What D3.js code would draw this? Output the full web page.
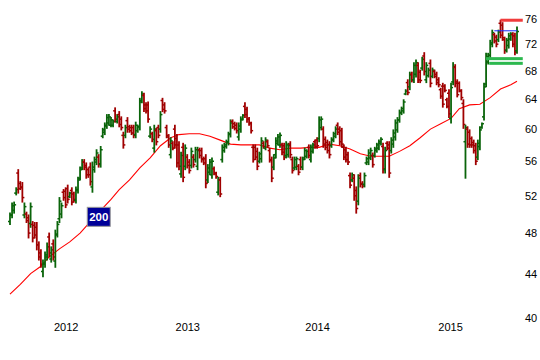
<!DOCTYPE html>
<html>
<head>
<meta charset="utf-8">
<script src="https://cdn.jsdelivr.net/npm/d3@7/dist/d3.min.js"></script>
<style>
  html, body { margin: 0; padding: 0; background: #fff; }
  svg { display: block; }
  text { font-family: "Liberation Sans", Arial, sans-serif; }
</style>
</head>
<body>
<svg id="chart" width="540" height="360"></svg>
<script>
// ---- data (weekly OHLC bars) ----
const highs = [
50.1,51.2,51.3,52.9,55.0,53.6,53.5,51.2,50.2,49.9,
51.2,49.2,49.1,49.1,47.1,46.3,45.3,46.1,47.0,48.0,
46.6,47.3,48.3,49.2,51.8,51.2,52.7,52.9,53.2,52.4,
52.9,52.4,53.0,54.1,55.3,56.2,56.2,55.8,55.2,55.8,
55.9,56.5,57.4,56.8,57.8,60.1,60.8,61.9,61.9,61.5,
61.2,62.8,61.9,62.3,61.6,59.6,60.5,61.5,60.5,60.5,
60.5,60.9,60.5,64.1,65.0,64.8,63.5,63.6,60.3,59.6,
60.5,60.1,60.5,62.3,64.1,63.5,60.5,59.3,58.9,58.4,
60.5,59.3,58.4,57.1,58.2,58.0,56.8,56.2,57.6,56.8,
57.7,57.7,57.6,57.6,56.5,56.8,55.6,56.2,56.4,55.3,
54.7,54.1,54.1,58.0,58.2,58.6,59.6,61.2,61.2,60.9,
60.8,60.8,61.6,61.9,63.5,62.9,61.5,60.9,58.0,58.0,
57.6,57.1,58.9,58.4,58.9,58.6,57.6,56.5,56.8,58.9,
59.3,59.5,58.2,58.2,58.4,58.2,58.4,56.5,56.5,56.5,
55.6,56.5,56.5,57.6,57.4,58.0,58.0,58.2,58.6,58.9,
61.6,61.6,60.3,59.0,58.6,58.4,58.9,59.6,60.3,60.8,
60.3,60.1,58.0,57.7,57.1,54.6,54.6,54.4,53.0,54.4,
54.6,53.6,54.6,56.5,57.4,57.6,57.0,57.7,58.2,58.6,
58.9,58.2,57.7,58.4,58.4,58.9,59.9,61.2,61.5,62.5,
62.9,63.9,65.3,66.7,67.8,67.8,69.2,69.6,69.2,68.1,
70.0,70.7,69.2,68.4,69.6,68.4,68.1,67.8,67.0,65.5,
66.2,66.0,64.1,65.3,66.2,69.2,68.9,66.7,66.4,65.3,
63.9,60.5,60.3,59.9,59.0,58.6,58.2,58.6,60.3,60.8,
66.2,70.6,70.6,72.6,74.2,73.7,73.4,74.2,75.8,75.4,
73.1,72.9,73.7,73.8,73.8,73.7,74.7];
const lows = [
48.9,49.6,50.1,52.1,52.3,52.7,51.3,49.6,49.1,47.5,
48.6,47.1,47.5,46.3,45.3,44.6,43.7,44.6,45.3,45.6,
45.1,45.3,44.6,47.6,49.1,49.6,51.5,50.7,51.2,51.8,
51.0,51.3,51.2,52.3,53.8,55.0,55.0,54.0,54.1,53.2,
52.4,54.7,55.6,55.3,55.3,58.9,59.3,60.1,60.5,60.3,
60.3,60.9,60.8,60.3,59.9,57.6,58.9,59.6,59.6,59.3,
58.9,58.9,59.6,59.9,63.5,62.3,62.1,60.9,58.9,58.4,
57.1,58.0,58.9,59.6,62.3,62.1,58.9,57.7,56.4,57.4,
57.6,55.3,55.0,54.1,53.6,55.0,55.2,54.6,55.2,55.3,
55.9,55.0,56.4,55.9,55.6,52.9,53.5,54.4,54.0,54.4,
54.0,52.1,51.9,55.9,57.1,57.6,58.0,59.0,60.1,59.9,
59.5,58.6,59.6,61.2,61.5,60.9,60.5,59.5,55.9,56.2,
55.0,55.8,55.9,57.6,57.4,57.7,55.9,53.6,55.0,56.4,
58.0,57.7,56.8,56.2,56.4,56.5,56.4,54.6,55.0,55.0,
54.4,55.0,55.0,56.2,56.4,56.4,55.9,57.0,57.6,57.6,
58.4,59.9,57.7,57.4,57.0,56.4,57.7,58.4,58.9,59.3,
58.0,57.7,56.2,55.9,55.6,52.9,53.6,51.5,50.1,51.0,
53.0,52.9,53.0,55.6,55.6,56.2,55.3,56.5,57.1,57.4,
58.0,54.6,54.6,57.4,54.1,57.0,57.7,58.6,59.6,60.9,
61.9,62.1,64.6,64.6,65.3,66.4,66.3,67.1,66.3,66.3,
68.1,67.4,66.3,67.1,65.7,67.0,67.0,66.0,65.7,64.1,
62.9,65.0,62.8,61.5,60.8,66.0,65.7,64.3,65.0,63.9,
60.1,54.0,57.7,57.7,57.7,57.0,55.6,56.2,57.4,60.1,
61.2,65.7,69.0,70.0,71.6,72.2,71.6,72.4,73.0,72.6,
70.6,70.8,71.4,72.6,71.6,70.4,70.6];
const opens = [
49.2,49.9,50.4,52.3,54.6,53.4,53.0,49.9,50.0,49.6,
49.0,48.9,48.8,48.6,46.8,46.0,44.2,44.9,45.6,47.6,
45.4,46.9,45.2,47.9,49.5,50.0,52.4,52.5,52.8,51.9,
52.6,52.2,51.5,52.6,54.0,55.2,55.9,55.5,55.0,55.3,
53.0,55.0,55.9,56.5,55.7,59.1,59.6,60.4,60.8,60.5,
60.5,62.4,61.0,61.9,61.3,59.2,59.2,61.1,60.3,60.2,
60.2,59.3,59.8,60.3,63.8,64.5,63.2,63.2,59.1,59.4,
57.6,59.8,60.2,60.0,63.8,63.2,60.2,59.0,56.8,58.2,
60.0,58.8,58.0,54.5,57.7,55.4,56.5,55.9,55.5,56.5,
56.2,55.4,57.4,57.3,56.3,56.3,53.8,54.7,54.4,55.1,
54.5,52.4,53.8,56.2,57.3,57.8,58.3,59.4,61.0,60.7,
60.5,59.0,60.0,61.3,63.0,62.6,61.3,60.7,57.7,57.7,
57.2,56.0,56.3,58.2,57.6,58.4,57.3,56.1,55.3,56.8,
58.2,58.0,58.0,57.9,56.7,56.8,58.1,56.2,55.2,55.3,
55.4,56.2,55.3,56.4,56.6,57.7,56.2,57.2,58.4,58.6,
58.8,60.2,60.0,58.7,58.3,58.0,57.9,58.6,59.1,60.5,
60.0,59.8,57.7,57.4,56.8,54.3,53.8,54.0,52.6,51.4,
54.3,53.4,53.3,55.8,55.9,56.4,56.7,56.7,57.3,57.6,
58.2,57.8,55.0,58.2,58.0,57.3,58.1,59.0,59.9,61.2,
62.1,62.4,64.7,66.3,65.7,67.5,66.7,67.5,68.8,67.8,
68.4,70.2,66.7,67.3,69.1,67.2,67.9,67.5,66.7,65.3,
65.8,65.8,63.9,64.8,61.4,66.4,68.5,66.4,66.2,65.1,
63.4,58.4,60.0,59.6,58.8,58.3,57.9,56.5,57.8,60.2,
61.6,66.1,69.3,70.3,72.0,73.5,73.1,72.7,75.3,75.0,
72.7,71.1,71.8,72.8,73.5,73.3,71.0];
const closes = [
49.9,50.9,51.0,52.7,52.8,52.9,51.8,50.8,49.3,48.0,
50.8,47.5,47.8,46.8,45.6,44.9,45.0,45.8,46.6,46.0,
46.3,45.6,47.8,48.9,51.4,50.9,51.8,51.0,51.6,52.3,
51.3,51.6,52.7,53.8,55.0,55.9,55.3,54.4,54.4,53.6,
55.3,56.2,57.0,55.6,57.4,59.9,60.5,61.5,61.6,61.2,
61.0,61.3,61.6,60.6,60.2,58.0,60.2,60.0,59.8,59.5,
59.2,60.5,60.3,63.6,64.7,62.7,62.4,61.3,60.0,58.7,
60.0,58.4,59.2,61.9,62.6,62.4,59.2,58.0,58.5,57.6,
58.0,55.8,55.4,56.7,54.1,57.6,55.5,54.9,57.2,55.6,
57.4,57.3,56.7,56.2,55.8,53.4,55.2,55.9,56.0,54.6,
54.2,53.8,52.2,57.7,58.0,58.4,59.3,60.8,60.3,60.1,
59.8,60.4,61.2,61.8,61.9,61.3,60.8,59.8,56.2,56.5,
55.4,56.9,58.5,57.8,58.6,57.9,56.2,54.0,56.4,58.5,
59.0,59.2,57.1,56.5,58.0,57.9,56.8,54.9,56.2,56.3,
54.7,55.3,56.2,57.3,57.2,56.7,57.7,58.0,57.8,57.9,
61.2,61.3,58.1,57.7,57.3,56.8,58.7,59.4,60.0,59.6,
58.4,58.1,56.5,56.2,55.9,53.2,54.4,52.0,50.6,54.0,
53.3,53.1,54.3,56.3,57.0,57.3,55.6,57.5,58.0,58.4,
58.7,55.1,57.3,57.6,54.6,58.6,59.5,60.8,61.2,62.2,
62.7,63.6,65.1,64.9,67.4,66.7,68.8,69.2,66.7,66.6,
69.7,67.9,68.8,68.1,66.2,68.1,67.2,66.3,66.0,64.4,
63.3,65.2,63.0,62.0,65.6,68.6,66.2,64.6,65.2,64.2,
60.6,60.2,58.1,58.0,58.0,57.3,56.0,58.2,59.9,60.7,
65.7,70.1,70.3,72.2,73.8,72.5,72.0,73.9,73.4,73.0,
71.0,72.6,73.3,73.6,72.0,70.8,74.0];

// 200-day moving average, read at these bar positions
const maIndex = [0,5,10,15,19,24,29,34,39,44,49,53,58,63,68,73,78,82,87,92,97,102,107,112,116,121,126,131,136,141,146,150,155,160,165,170,175,180,184,189,194,199,204,209,214,218,223,228,233,238,243,246];
const maValues = [42.1,43.0,44.0,44.7,45.6,46.4,47.1,48.0,49.2,50.4,51.6,52.7,53.8,55.2,56.4,57.9,58.9,59.3,59.4,59.4,59.1,58.6,58.1,58.0,58.0,58.0,57.6,57.4,57.6,57.6,57.7,57.7,58.1,57.9,57.5,56.9,56.6,56.6,56.6,57.2,57.9,58.9,60.0,60.7,61.4,62.7,63.2,63.3,64.2,65.4,66.0,66.5];
const maLabel = "200";
const maLabelIndex = 37;
const maLabelValue = 48.7;

// axis ticks
const yearLabels = ["2012", "2013", "2014", "2015"];
const yearIndex = [27, 86, 149, 213.5];
const priceTicks = [40, 44, 48, 52, 56, 60, 64, 68, 72, 76];

// horizontal level markers at the right edge
const levelValues = [75.8, 69.8, 69.1];
const levelStart = [238, 231, 232.5];
const levelKinds = ["resist", "support", "support"];
const lastLineValue = 74.1;
const lastLineStart = 235;

// ---- drawing ----
const svg = d3.select("#chart");
const N = highs.length;
const x = d3.scaleLinear().domain([0, N - 1]).range([10, 517]);
const y = d3.scaleLog().domain([40, 76]).range([318, 19]);

const UP = "#0a640a", DOWN = "#a00000";

// moving average
const maData = maIndex.map((i, k) => ({ i, v: maValues[k] }));
svg.append("path")
  .datum(maData)
  .attr("fill", "none")
  .attr("stroke", "#ff0000")
  .attr("stroke-width", 1.1)
  .attr("d", d3.line().x(d => x(d.i)).y(d => y(d.v)));

// OHLC bars
const bars = svg.append("g");
d3.range(N).forEach(i => {
  const col = closes[i] >= opens[i] ? UP : DOWN;
  const cx = x(i);
  const g = bars.append("g").attr("stroke", col);
  g.append("line").attr("x1", cx).attr("x2", cx)
    .attr("stroke-width", 1.8)
    .attr("y1", y(highs[i]) - 0.5).attr("y2", y(lows[i]) + 0.5);
  g.append("line").attr("x1", cx - 2).attr("x2", cx)
    .attr("stroke-width", 1.5)
    .attr("y1", y(opens[i])).attr("y2", y(opens[i]));
  g.append("line").attr("x1", cx).attr("x2", cx + 2)
    .attr("stroke-width", 1.5)
    .attr("y1", y(closes[i])).attr("y2", y(closes[i]));
});

// level markers
levelValues.forEach((v, k) => {
  svg.append("rect")
    .attr("x", x(levelStart[k]))
    .attr("y", y(v) - 1.5)
    .attr("width", x(248.8) - x(levelStart[k]))
    .attr("height", 3)
    .attr("fill", levelKinds[k] === "resist" ? "#f03c3c" : "#2cb84e");
});
svg.append("line")
  .attr("x1", x(lastLineStart)).attr("x2", x(N - 1))
  .attr("y1", y(lastLineValue)).attr("y2", y(lastLineValue))
  .attr("stroke", "#1a2cff").attr("stroke-width", 1);

// MA label box
const lx = x(maLabelIndex) + 1, ly = y(maLabelValue) - 19;
svg.append("rect")
  .attr("x", lx).attr("y", ly).attr("width", 23).attr("height", 19)
  .attr("fill", "#000099").attr("stroke", "#9a9a9a").attr("stroke-width", 1);
svg.append("text")
  .attr("x", lx + 11.5).attr("y", ly + 14)
  .attr("text-anchor", "middle")
  .attr("fill", "#fff").attr("font-weight", "bold").attr("font-size", 11.5)
  .text(maLabel);

// y axis (right)
svg.append("g")
  .attr("transform", "translate(522,0)")
  .call(d3.axisRight(y).tickValues(priceTicks).tickFormat(d3.format("d")).tickSize(0).tickPadding(3))
  .call(g => g.select(".domain").remove())
  .call(g => g.selectAll("text").attr("font-size", 11).attr("fill", "#000")
    .style("font-family", '"Liberation Sans", Arial, sans-serif'));

// x axis (years)
svg.append("g")
  .attr("transform", "translate(0,320)")
  .call(d3.axisBottom(x).tickValues(yearIndex).tickFormat((d, i) => yearLabels[i]).tickSize(0).tickPadding(3))
  .call(g => g.select(".domain").remove())
  .call(g => g.selectAll("text").attr("font-size", 11).attr("fill", "#000")
    .style("font-family", '"Liberation Sans", Arial, sans-serif'));
</script>
</body>
</html>
